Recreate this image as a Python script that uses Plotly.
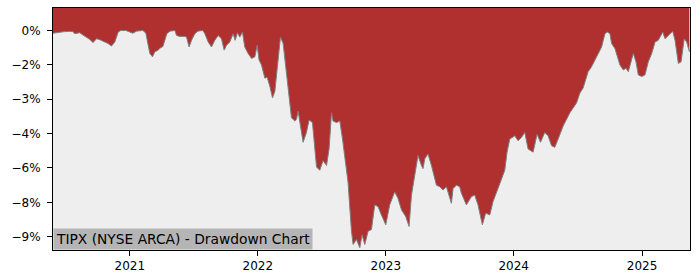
import pandas as pd
import plotly.graph_objects as go

# decimal-year positions of the sampled points
years = [
    2020.401, 2020.422, 2020.453, 2020.492, 2020.531, 2020.557, 2020.570, 2020.609,
    2020.635, 2020.662, 2020.688, 2020.713, 2020.740, 2020.766, 2020.805, 2020.830,
    2020.857, 2020.883, 2020.909, 2020.930, 2020.969, 2021.023, 2021.052, 2021.102,
    2021.125, 2021.143, 2021.156, 2021.177, 2021.195, 2021.221, 2021.234, 2021.258,
    2021.273, 2021.289, 2021.313, 2021.352, 2021.365, 2021.391, 2021.430, 2021.443,
    2021.463, 2021.482, 2021.508, 2021.531, 2021.570, 2021.586, 2021.612, 2021.638,
    2021.664, 2021.690, 2021.716, 2021.737, 2021.755, 2021.781, 2021.807, 2021.823,
    2021.841, 2021.859, 2021.880, 2021.898, 2021.924, 2021.951, 2021.977, 2021.995,
    2022.010, 2022.029, 2022.055, 2022.073, 2022.094, 2022.115, 2022.133, 2022.151,
    2022.177, 2022.198, 2022.219, 2022.237, 2022.263, 2022.289, 2022.302, 2022.315,
    2022.328, 2022.354, 2022.380, 2022.401, 2022.427, 2022.445, 2022.459, 2022.484,
    2022.510, 2022.537, 2022.557, 2022.576, 2022.588, 2022.615, 2022.641, 2022.662,
    2022.680, 2022.705, 2022.732, 2022.745, 2022.771, 2022.797, 2022.815, 2022.836,
    2022.862, 2022.888, 2022.914, 2022.940, 2022.966, 2023.000, 2023.031, 2023.070,
    2023.096, 2023.123, 2023.156, 2023.182, 2023.201, 2023.227, 2023.252, 2023.279,
    2023.291, 2023.305, 2023.330, 2023.357, 2023.396, 2023.422, 2023.448, 2023.474,
    2023.513, 2023.526, 2023.552, 2023.578, 2023.591, 2023.630, 2023.670, 2023.695,
    2023.721, 2023.755, 2023.781, 2023.813, 2023.838, 2023.877, 2023.904, 2023.930,
    2023.948, 2023.969, 2024.008, 2024.034, 2024.060, 2024.086, 2024.112, 2024.151,
    2024.182, 2024.209, 2024.242, 2024.268, 2024.295, 2024.320, 2024.346, 2024.385,
    2024.438, 2024.490, 2024.516, 2024.541, 2024.580, 2024.607, 2024.646, 2024.685,
    2024.711, 2024.729, 2024.750, 2024.763, 2024.789, 2024.828, 2024.854, 2024.875,
    2024.893, 2024.932, 2024.953, 2024.971, 2024.998, 2025.023, 2025.049, 2025.076,
    2025.102, 2025.127, 2025.162, 2025.180, 2025.205, 2025.240, 2025.258, 2025.284,
    2025.305, 2025.330, 2025.349, 2025.370,
]

# drawdown in percent
drawdown = [
    -0.12, -0.10, -0.08, -0.05, -0.04, -0.05, -0.14, -0.10,
    -0.20, -0.29, -0.39, -0.53, -0.36, -0.40, -0.50, -0.57,
    -0.68, -0.50, -0.07, 0.00, 0.00, -0.12, -0.03, 0.00,
    -0.12, -0.56, -1.00, -1.15, -0.93, -0.86, -0.78, -0.70,
    -0.40, -0.14, -0.03, 0.00, -0.22, -0.26, -0.26, -0.29,
    -0.72, -0.43, -0.14, -0.03, 0.00, -0.14, -0.50, -0.72,
    -0.43, -0.22, -0.36, -0.86, -0.65, -0.50, -0.14, -0.43,
    -0.10, -0.29, -0.07, -0.72, -1.00, -1.22, -1.15, -0.65,
    -1.29, -1.51, -2.08, -2.04, -2.44, -2.94, -2.66, -1.58,
    -0.29, -0.57, -1.58, -2.44, -3.81, -3.95, -3.88, -3.52,
    -4.05, -4.88, -4.45, -3.91, -4.02, -5.03, -5.96, -6.10,
    -5.68, -5.89, -5.17, -3.59, -3.95, -4.02, -3.95, -4.74,
    -5.60, -6.61, -8.76, -9.34, -9.12, -9.48, -8.91, -9.34,
    -8.76, -8.69, -7.61, -7.69, -8.05, -8.48, -7.61, -7.04,
    -7.33, -7.83, -8.12, -8.55, -7.18, -6.32, -5.46, -5.89,
    -6.03, -5.60, -5.39, -5.89, -6.75, -6.82, -6.96, -6.82,
    -7.54, -6.90, -6.75, -6.82, -7.10, -7.61, -7.25, -7.18,
    -7.61, -8.48, -7.97, -8.05, -7.47, -6.90, -6.47, -6.10,
    -5.31, -4.74, -4.60, -4.81, -4.67, -4.45, -5.17, -5.31,
    -4.53, -4.88, -4.45, -4.60, -5.03, -5.10, -4.74, -4.17,
    -3.59, -3.16, -2.73, -2.51, -1.80, -1.58, -1.15, -0.72,
    -0.14, -0.07, -0.14, -0.57, -0.79, -1.51, -1.72, -1.65,
    -1.80, -1.00, -1.37, -1.94, -2.01, -1.94, -1.37, -1.00,
    -0.50, -0.43, -0.07, -0.36, -0.22, -0.03, -0.43, -1.44,
    -1.37, -0.36, -0.50, -0.93,
]

y_tick_vals = [0, -1.5, -3, -4.5, -6, -7.5, -9]
y_tick_text = ["0%", "\u22122%", "\u22123%", "\u22124%", "\u22126%", "\u22128%", "\u22129%"]
x_tick_years = [2021, 2022, 2023, 2024, 2025]
title_text = "TIPX (NYSE ARCA) - Drawdown Chart"

Y_MIN, Y_MAX = -9.58, 0.98
X_START, X_END = 2020.401, 2025.375


def to_date(yr):
    y = int(yr)
    start = pd.Timestamp(year=y, month=1, day=1)
    end = pd.Timestamp(year=y + 1, month=1, day=1)
    return start + (end - start) * (yr - y)


dates = [to_date(v) for v in years]

fig = go.Figure()
fig.add_trace(go.Scatter(
    x=dates, y=[Y_MAX] * len(dates), mode="lines",
    line=dict(width=0, color="rgba(0,0,0,0)"), hoverinfo="skip", showlegend=False,
))
fig.add_trace(go.Scatter(
    x=dates, y=drawdown, mode="lines",
    line=dict(width=1, color="#7f7f7f"),
    fill="tonexty", fillcolor="#B02F2F", showlegend=False,
))

fig.add_annotation(
    text=title_text, xref="paper", yref="paper", x=0, y=0,
    xanchor="left", yanchor="bottom", showarrow=False,
    font=dict(family="DejaVu Sans", size=13.8, color="black"),
    bgcolor="#B5B5B5", borderpad=2,
)

fig.update_layout(
    width=700, height=280,
    margin=dict(l=53, r=10, t=7, b=28),
    paper_bgcolor="white", plot_bgcolor="#EEEEEE",
    font=dict(family="DejaVu Sans", size=12, color="black"),
    showlegend=False,
)
fig.update_xaxes(
    type="date",
    range=[to_date(X_START), to_date(X_END)],
    tickvals=[pd.Timestamp(year=y, month=1, day=1) for y in x_tick_years],
    ticktext=[str(y) for y in x_tick_years],
    ticks="outside", ticklen=5, tickcolor="black",
    showgrid=False, zeroline=False,
    showline=True, linecolor="black", linewidth=1, mirror=True,
)
fig.update_yaxes(
    range=[Y_MIN, Y_MAX],
    tickvals=y_tick_vals, ticktext=y_tick_text,
    ticks="outside", ticklen=5, tickcolor="black",
    showgrid=False, zeroline=False,
    showline=True, linecolor="black", linewidth=1, mirror=True,
    ticklabelstandoff=4,
)

fig.write_html("out.html")
